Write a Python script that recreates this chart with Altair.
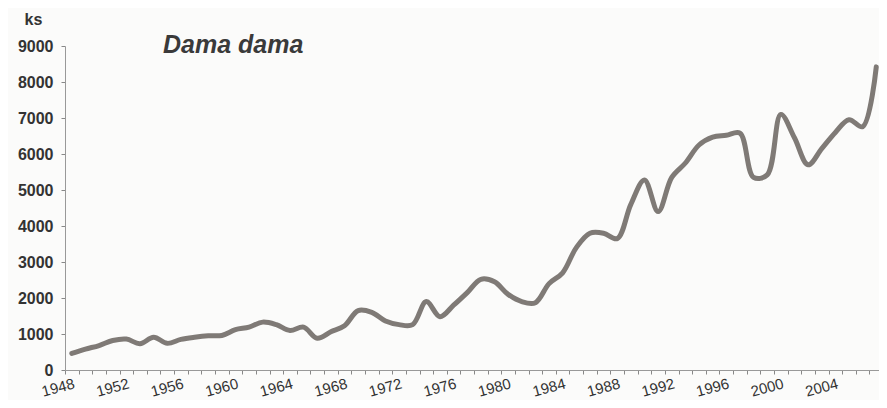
import altair as alt
import pandas as pd

years = list(range(1948, 2008))
values = [
    460, 580, 680, 820, 860, 730, 910, 740, 850, 910,
    950, 960, 1120, 1190, 1330, 1260, 1100, 1190, 880, 1060,
    1230, 1650, 1600, 1360, 1260, 1260, 1900, 1480, 1800, 2150,
    2520, 2450, 2100, 1900, 1870, 2400, 2700, 3400, 3800, 3800,
    3650, 4600, 5280, 4400, 5350, 5750, 6250, 6470, 6520, 6580,
    5350, 5420, 7100, 6450, 5700, 6150, 6600, 6950, 6760, 8420,
]
y_ticks = list(range(0, 10000, 1000))
x_ticks = [y - 0.5 for y in years]
title_text = ["Dama dama"]
unit_label = "ks"

df = pd.DataFrame({"year": years, "value": values})

line = alt.Chart(df).mark_line(
    color="#7f7a76", strokeWidth=5, interpolate="catmull-rom",
    strokeCap="round", strokeJoin="round"
).encode(
    x=alt.X("year:Q",
            scale=alt.Scale(domain=[1947.5, 2007.2], nice=False, zero=False),
            axis=alt.Axis(values=x_ticks, title=None, grid=False,
                          tickSize=4, tickColor="#888", domainColor="#999",
                          labelAngle=-15, labelAlign="right", labelBaseline="top",
                          labelPadding=2, labelOffset=7, labelFont="Liberation Sans",
                          labelFontSize=15, labelColor="#333",
                          labelOverlap=False, labelFlush=False,
                          labelExpr="(datum.value < 2007 && (datum.value + 0.5) % 4 == 0) ? format(datum.value + 0.5, 'd') : ''")),
    y=alt.Y("value:Q",
            scale=alt.Scale(domain=[0, 9000], nice=False),
            axis=alt.Axis(values=y_ticks, format="d", grid=False, tickSize=4,
                          tickColor="#888", domainColor="#999",
                          labelFont="Liberation Sans",
                          labelFontSize=16, labelFontWeight="bold", labelColor="#333",
                          labelPadding=8, title=unit_label, titleAngle=0,
                          titleX=-32, titleY=-27, titleAlign="center",
                          titleBaseline="middle", titleFont="Liberation Sans",
                          titleFontSize=16, titleFontWeight="bold", titleColor="#333")),
)

label = alt.Chart(pd.DataFrame({"t": title_text})).mark_text(
    align="left", baseline="alphabetic", font="Liberation Sans",
    fontSize=25, fontStyle="italic", fontWeight="bold", color="#3a3a3a"
).encode(x=alt.value(98), y=alt.value(7), text="t:N")

chart = alt.layer(line, label).properties(
    width=814, height=324,
    padding={"left": 57, "top": 38, "right": 0, "bottom": 30},
    autosize=alt.AutoSizeParams(type="none"),
    background="#fbfbfa",
).configure_view(stroke=None)

chart.save("out.html", embed_options={"renderer": "svg", "actions": False})
